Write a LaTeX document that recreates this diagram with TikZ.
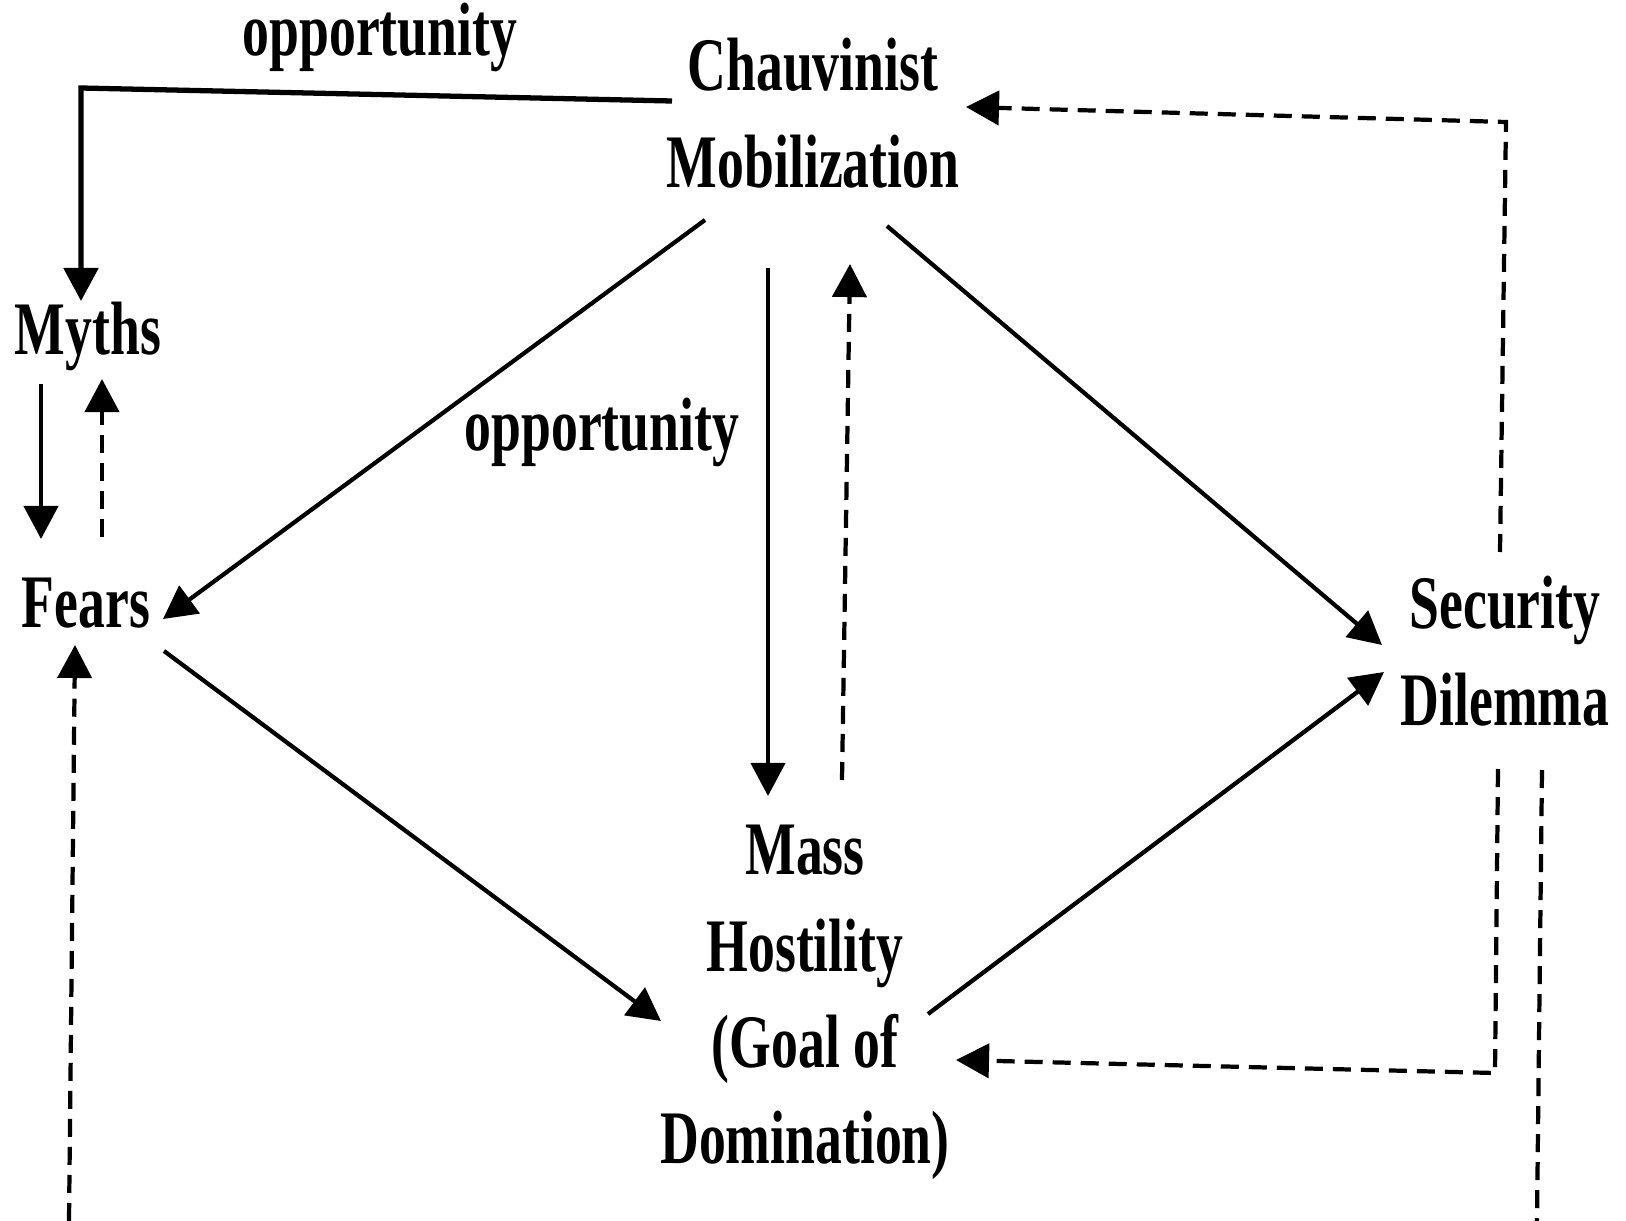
\documentclass[tikz,border=0pt]{standalone}
\usepackage{fontspec}
\setmainfont{Liberation Serif}[FakeStretch=0.71]
\usepackage{tikz}
\usetikzlibrary{arrows.meta}

\begin{document}
\begin{tikzpicture}[%
x={(0.01cm,0cm)},
y={(0cm,-0.01cm)},
lbl/.style={font=\fontsize{21.5}{27.3}\selectfont\bfseries,inner sep=0pt,anchor=base,align=center},
sline/.style={line width=1.2pt},
dline/.style={line width=1.2pt,dash pattern=on 1.8mm off 1mm},
arr/.style={sline,-{Triangle[length=3.3mm,width=3.4mm]}},
darr/.style={dline,-{Triangle[length=3.3mm,width=3.4mm]}},
]

\useasboundingbox (0,0) rectangle (1626,1221);

%Knoten (base = letzte Zeile)
\node[lbl] (CM) at (813,187) {Chauvinist\\Mobilization};
\node[lbl] (My) at (88,354) {Myths};
\node[lbl] (Fe) at (86,627) {Fears};
\node[lbl] (SD) at (1505,725) {Security\\Dilemma};
\node[lbl] (MH) at (805,1163) {Mass\\Hostility\\(Goal of\\Domination)};
\node[lbl] (op1) at (380,55) {opportunity};
\node[lbl] (op2) at (602,450) {opportunity};

\coordinate (botL) at (69,1221);
\coordinate (botR) at (1537,1221);

%Pfeile
\draw[arr,line width=1.5pt] ([shift={(-141,-86)}]CM.base)
-- ([shift={(-7,-266)}]My.base)
-- ([shift={(-7,-53)}]My.base);
\draw[arr] ([shift={(-47,30)}]My.base) -- ([shift={(-45,-88)}]Fe.base);
\draw[darr] ([shift={(16,-90)}]Fe.base) -- ([shift={(14,25)}]My.base);
\draw[arr] ([shift={(-108,33)}]CM.base) -- ([shift={(77,-8)}]Fe.base);
\draw[arr] ([shift={(78,24)}]Fe.base) -- ([shift={(-144,-142)}]MH.base);
\draw[arr] ([shift={(-45,81)}]CM.base) -- ([shift={(-37,-367)}]MH.base);
\draw[darr] ([shift={(37,-383)}]MH.base) -- ([shift={(37,77)}]CM.base);
\draw[arr] ([shift={(74,39)}]CM.base) -- ([shift={(-123,-80)}]SD.base);
\draw[arr] ([shift={(123,-149)}]MH.base) -- ([shift={(-121,-53)}]SD.base);
\draw[darr] ([shift={(-5,-173)}]SD.base)
-- ([shift={(1,-603)}]SD.base)
-- ([shift={(153,-80)}]CM.base);
\draw[darr] ([shift={(-7,44)}]SD.base)
-- ([shift={(-10,348)}]SD.base)
-- ([shift={(151,-103)}]MH.base);
\draw[dline] ([shift={(37,45)}]SD.base) -- (botR);
\draw[darr] (botL) -- ([shift={(-11,18)}]Fe.base);

\end{tikzpicture}
\end{document}
